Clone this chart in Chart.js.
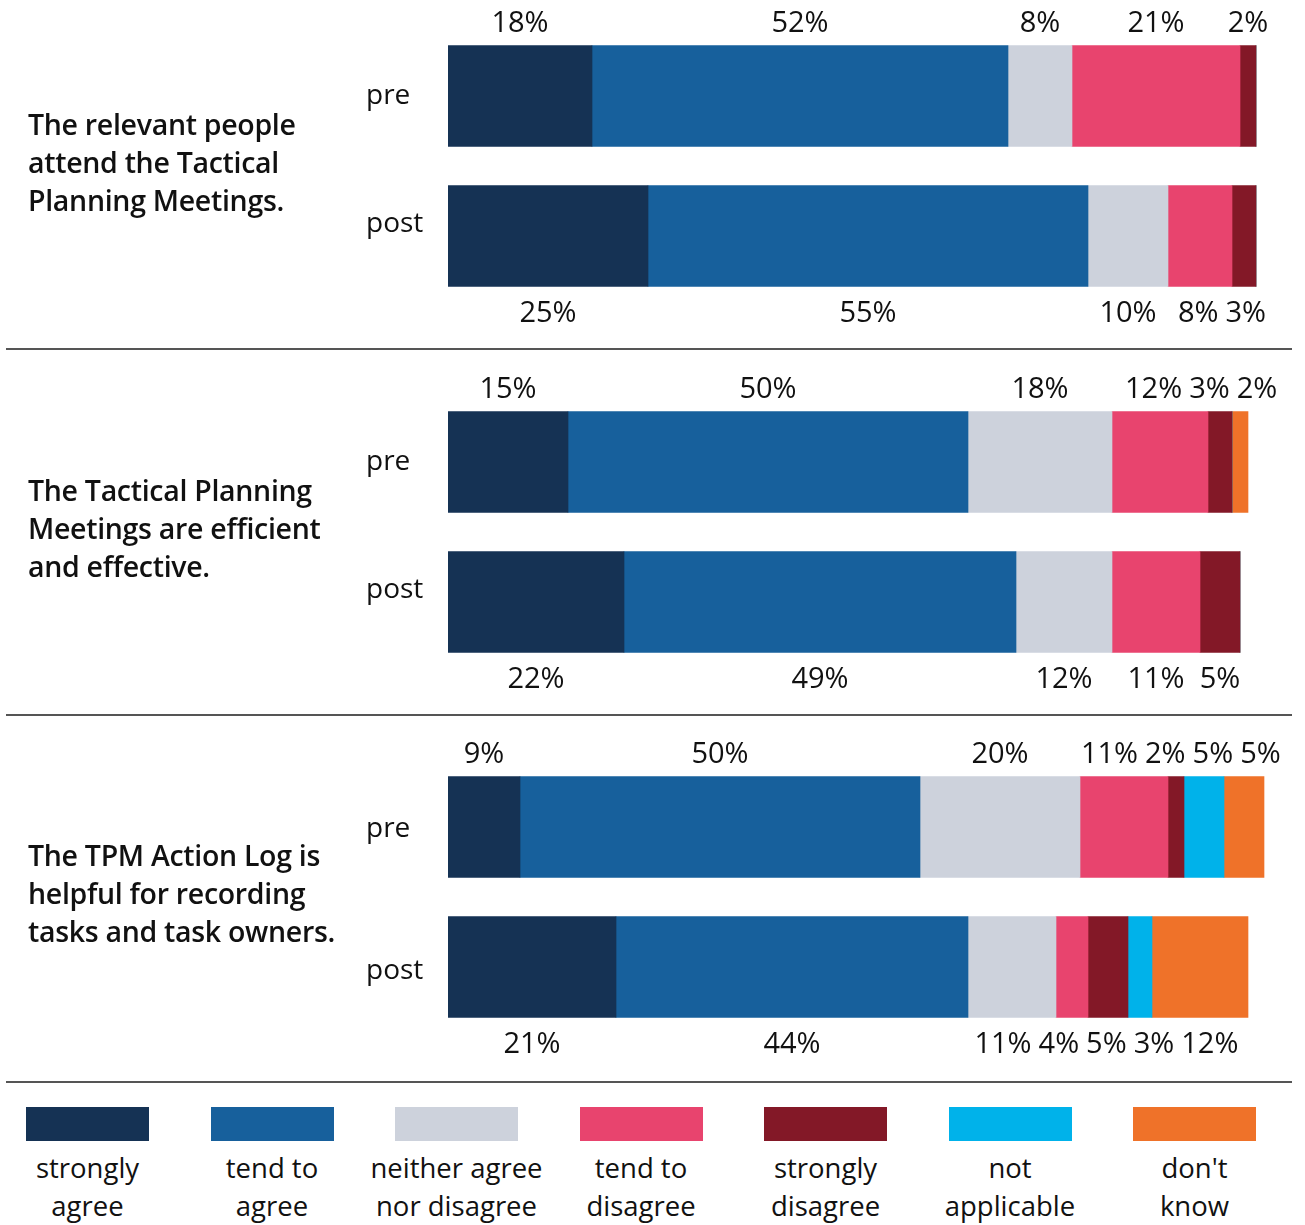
<!DOCTYPE html>
<html>
<head>
<meta charset="utf-8">
<script src="https://cdn.jsdelivr.net/npm/chart.js@4.4.0/dist/chart.umd.min.js"></script>
<style>
  body { margin: 0; background: #fff; font-family: "Open Sans", Lato, sans-serif; color: #111; }
  #wrap { position: relative; width: 1305px; height: 1225px; overflow: hidden; }
  .grp { position: absolute; left: 0; }
  .question { position: absolute; left: 28px; font-size: 28.5px; font-weight: 600; line-height: 38px; letter-spacing: -0.3px; }
  .sep { position: absolute; left: 6px; width: 1286px; height: 2px; background: #555; }
  .swatch { position: absolute; top: 1107px; width: 123px; height: 34px; }
  .legtxt { position: absolute; top: 1149px; width: 184px; text-align: center; font-size: 27.5px; line-height: 38px; }
</style>
</head>
<body>
<div id="wrap"></div>
<script>
// statements (one line per entry)
const statements = [
  ['The relevant people', 'attend the Tactical', 'Planning Meetings.'],
  ['The Tactical Planning', 'Meetings are efficient', 'and effective.'],
  ['The TPM Action Log is', 'helpful for recording', 'tasks and task owners.']
];
const rows = ['pre', 'post'];

// response categories + legend text (two lines each)
const categories = ['strongly agree', 'tend to agree', 'neither agree nor disagree', 'tend to disagree', 'strongly disagree', 'not applicable', "don't know"];
const legendLines = [['strongly', 'agree'], ['tend to', 'agree'], ['neither agree', 'nor disagree'], ['tend to', 'disagree'], ['strongly', 'disagree'], ['not', 'applicable'], ["don't", 'know']];
const colors = ['#153254', '#17609c', '#cdd2dc', '#e8446e', '#831827', '#00b2ea', '#ef7229'];

// values in %, order: Q1 pre, Q1 post, Q2 pre, Q2 post, Q3 pre, Q3 post
const stronglyAgree    = [18, 25, 15, 22,  9, 21];
const tendToAgree      = [52, 55, 50, 49, 50, 44];
const neither          = [ 8, 10, 18, 12, 20, 11];
const tendToDisagree   = [21,  8, 12, 11, 11,  4];
const stronglyDisagree = [ 2,  3,  3,  5,  2,  5];
const notApplicable    = [ 0,  0,  0,  0,  5,  3];
const dontKnow         = [ 0,  0,  2,  0,  5, 12];
const series = [stronglyAgree, tendToAgree, neither, tendToDisagree, stronglyDisagree, notApplicable, dontKnow];

// layout bits
const groupTop = [0, 366, 731];
const sepTop = [348, 714, 1081];
const rowLabelShift = [[7.5, -4.5], [7.5, -4.5], [9.5, 11.5]];

const wrap = document.getElementById('wrap');

// push overlapping labels apart, clusters centred on their ideal positions
function spread(items, gap) {
  let clusters = items.map(it => [it]);
  function place(c) {
    let off = 0, offs = [];
    c.forEach((it, i) => {
      if (i > 0) off += (c[i - 1].w + it.w) / 2 + gap;
      offs.push(off);
    });
    const start = c.reduce((s, it, i) => s + it.ideal - offs[i], 0) / c.length;
    c.forEach((it, i) => { it.x = start + offs[i]; });
  }
  let merged = true;
  while (merged) {
    merged = false;
    clusters.forEach(place);
    for (let i = 0; i < clusters.length - 1; i++) {
      const a = clusters[i][clusters[i].length - 1], b = clusters[i + 1][0];
      if (b.x - a.x < (a.w + b.w) / 2 + gap) {
        clusters[i] = clusters[i].concat(clusters[i + 1]);
        clusters.splice(i + 1, 1);
        merged = true;
        break;
      }
    }
  }
  return items;
}

const labelPlugin = {
  id: 'pctLabels',
  afterDatasetsDraw(chart) {
    const ctx = chart.ctx;
    const g = chart.options.plugins.pctLabels.group;
    ctx.save();
    ctx.fillStyle = '#111';
    for (let r = 0; r < 2; r++) {
      ctx.font = '29px "Open Sans", Lato, sans-serif';
      const items = [];
      let bar0 = null;
      chart.data.datasets.forEach((ds, k) => {
        const el = chart.getDatasetMeta(k).data[r];
        if (!bar0) bar0 = el;
        const v = ds.data[r];
        if (!v) return;
        const txt = v + '%';
        items.push({ txt, ideal: (el.x + el.base) / 2, w: ctx.measureText(txt).width });
      });
      spread(items, 7);
      const half = bar0.height / 2;
      const y = r === 0 ? bar0.y - half - 14 : bar0.y + half + 35;
      ctx.textAlign = 'center';
      ctx.textBaseline = 'alphabetic';
      items.forEach(it => ctx.fillText(it.txt, it.x, y));
      // row label (pre / post)
      ctx.font = '28px "Open Sans", Lato, sans-serif';
      ctx.textAlign = 'left';
      ctx.fillText(rows[r], 366, bar0.y + rowLabelShift[g][r]);
    }
    ctx.restore();
  }
};

statements.forEach((lines, g) => {
  const box = document.createElement('div');
  box.className = 'grp';
  box.style.top = groupTop[g] + 'px';
  const cv = document.createElement('canvas');
  cv.width = 1305; cv.height = 346;
  box.appendChild(cv);
  wrap.appendChild(box);

  const q = document.createElement('div');
  q.className = 'question';
  q.style.top = (groupTop[g] + 105) + 'px';
  q.innerHTML = lines.join('<br>');
  wrap.appendChild(q);

  const sep = document.createElement('div');
  sep.className = 'sep';
  sep.style.top = sepTop[g] + 'px';
  wrap.appendChild(sep);

  new Chart(cv, {
    type: 'bar',
    data: {
      labels: rows,
      datasets: categories.map((name, k) => ({
        label: name,
        data: [series[k][2 * g], series[k][2 * g + 1]],
        backgroundColor: colors[k],
        borderWidth: 0,
        barThickness: 101
      }))
    },
    options: {
      indexAxis: 'y',
      responsive: false,
      animation: false,
      layout: { padding: { left: 448, right: 17, top: 26, bottom: 40 } },
      scales: {
        x: { stacked: true, min: 0, max: 105, display: false },
        y: { stacked: true, display: false }
      },
      plugins: {
        legend: { display: false },
        tooltip: { enabled: false },
        pctLabels: { group: g }
      }
    },
    plugins: [labelPlugin]
  });
});

// legend
categories.forEach((name, k) => {
  const left = 26 + k * 184.5;
  const sw = document.createElement('div');
  sw.className = 'swatch';
  sw.style.left = left + 'px';
  sw.style.background = colors[k];
  wrap.appendChild(sw);
  const t = document.createElement('div');
  t.className = 'legtxt';
  t.style.left = (left + 61.5 - 92) + 'px';
  t.innerHTML = legendLines[k].join('<br>');
  wrap.appendChild(t);
});
</script>
</body>
</html>
